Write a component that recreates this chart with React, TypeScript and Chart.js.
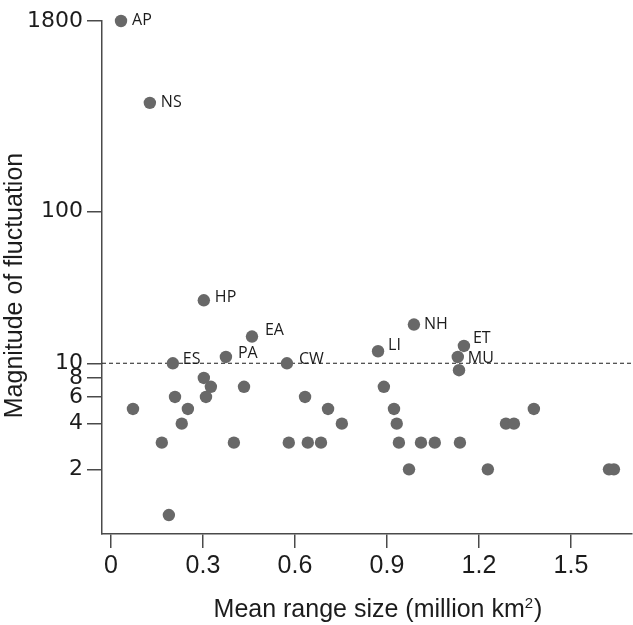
import React, { useEffect, useRef } from "react";
import { Chart, registerables } from "chart.js";

Chart.register(...registerables);

// ---- data ----
const rangeSize: number[] = [
  0.033, 0.127, 0.303, 0.46, 0.375, 0.202, 0.574, 0.871, 0.988, 1.151, 1.131,
  1.135, 0.072, 0.166, 0.189, 0.209, 0.231, 0.251, 0.303, 0.326, 0.31, 0.401,
  0.434, 0.58, 0.633, 0.642, 0.685, 0.708, 0.753, 0.89, 0.923, 0.932, 0.939,
  1.011, 1.056, 1.138, 0.972, 1.229, 1.288, 1.314, 1.379, 1.624, 1.64,
];
const fluctuation: number[] = [
  1800, 520, 26, 15, 11, 10, 10, 12, 18, 13, 11,
  9, 5, 3, 1, 6, 4, 5, 8, 7, 6, 3,
  7, 3, 6, 3, 3, 5, 4, 7, 5, 4, 3,
  3, 3, 3, 2, 2, 4, 4, 5, 2, 2,
];
const pointNames: string[] = [
  "AP", "NS", "HP", "EA", "PA", "ES", "CW", "LI", "NH", "ET", "MU",
];
const xTickValues: number[] = [0, 0.3, 0.6, 0.9, 1.2, 1.5];
const xTickLabels: string[] = ["0", "0.3", "0.6", "0.9", "1.2", "1.5"];
const yTickValues: number[] = [2, 4, 6, 8, 10, 100, 1800];
const yTickLabels: string[] = ["2", "4", "6", "8", "10", "100", "1800"];
const xTitleMain = "Mean range size (million km";
const xTitleSup = "2";
const xTitleEnd = ")";
const yTitle = "Magnitude of fluctuation";
const threshold = 10;
const xMin = -0.029;
const xMax = 1.699;
const yMin = 0.75;
const yMax = 1800;

// label offsets (style only): [dx, dy] from the point centre
const labelOffsets: Record<string, [number, number]> = {
  AP: [11, -1],
  NS: [11, 0],
  HP: [11, -3],
  EA: [13, -6],
  PA: [12, -4],
  ES: [10, -4],
  CW: [12, -4],
  LI: [10, -6],
  NH: [10, 0],
  ET: [9, -8],
  MU: [10, 1],
};

const INK = "#1c1c1c";
const AXIS = "#4a4a4a";
const TITLE_FONT = '25px "Liberation Sans"';
const SUP_FONT = '15px "Liberation Sans"';

const pointLabelPlugin = {
  id: "pointLabels",
  afterDatasetsDraw(chart: any) {
    const meta = chart.getDatasetMeta(1);
    const ctx = chart.ctx;
    ctx.save();
    ctx.font = '16px "Open Sans"';
    ctx.fillStyle = INK;
    ctx.textAlign = "left";
    ctx.textBaseline = "middle";
    pointNames.forEach((name, i) => {
      const el = meta.data[i];
      if (!el || !name) return;
      const off = labelOffsets[name] || [10, 0];
      ctx.fillText(name, el.x + off[0], el.y + off[1]);
    });
    ctx.restore();
  },
};

const axisTitlePlugin = {
  id: "axisTitles",
  afterDraw(chart: any) {
    const ctx = chart.ctx;
    const area = chart.chartArea;
    ctx.save();
    ctx.fillStyle = INK;
    ctx.textBaseline = "alphabetic";
    ctx.textAlign = "left";
    // x title with a real superscript
    ctx.font = TITLE_FONT;
    const wMain = ctx.measureText(xTitleMain).width;
    const wEnd = ctx.measureText(xTitleEnd).width;
    ctx.font = SUP_FONT;
    const wSup = ctx.measureText(xTitleSup).width;
    const total = wMain + wSup + 1 + wEnd;
    const cx = (area.left + area.right) / 2 + 11;
    const base = chart.height - 8;
    let x0 = cx - total / 2;
    ctx.font = TITLE_FONT;
    ctx.fillText(xTitleMain, x0, base);
    x0 += wMain;
    ctx.font = SUP_FONT;
    ctx.fillText(xTitleSup, x0, base - 9);
    x0 += wSup + 1;
    ctx.font = TITLE_FONT;
    ctx.fillText(xTitleEnd, x0, base);
    // y title, rotated
    ctx.translate(15, (area.top + area.bottom) / 2 + 8);
    ctx.rotate(-Math.PI / 2);
    ctx.textAlign = "center";
    ctx.textBaseline = "middle";
    ctx.font = TITLE_FONT;
    ctx.fillText(yTitle, 0, 0);
    ctx.restore();
  },
};

export default function App() {
  const ref = useRef<HTMLCanvasElement | null>(null);
  useEffect(() => {
    if (!ref.current) return;
    const points = rangeSize.map((x, i) => ({ x, y: fluctuation[i] }));
    const chart = new Chart(ref.current, {
      type: "scatter",
      data: {
        datasets: [
          {
            type: "line",
            data: [
              { x: xMin, y: threshold },
              { x: xMax, y: threshold },
            ],
            borderColor: INK,
            borderWidth: 1.2,
            borderDash: [4, 3],
            pointRadius: 0,
            fill: false,
            order: 2,
          } as any,
          {
            type: "scatter",
            data: points,
            backgroundColor: "#686868",
            borderWidth: 0,
            pointRadius: 6.2,
            clip: false,
            order: 1,
          } as any,
        ],
      },
      options: {
        animation: false,
        responsive: true,
        maintainAspectRatio: false,
        layout: { autoPadding: false, padding: { top: 21, right: 1, left: 0, bottom: 0 } },
        plugins: {
          legend: { display: false },
          tooltip: { enabled: false },
        },
        scales: {
          x: {
            type: "linear",
            min: xMin,
            max: xMax,
            afterBuildTicks: (s: any) => {
              s.ticks = xTickValues.map((v) => ({ value: v }));
            },
            afterFit: (s: any) => {
              s.height = 91;
            },
            ticks: {
              autoSkip: false,
              maxRotation: 0,
              padding: 3,
              color: INK,
              font: { family: '"Liberation Sans"', size: 25 },
              callback: (_v: any, i: number) => xTickLabels[i],
            },
            grid: {
              drawOnChartArea: false,
              drawTicks: true,
              tickLength: 14,
              color: AXIS,
              lineWidth: 1.5,
            },
            border: { display: true, color: AXIS, width: 1.5 },
            title: { display: false },
          },
          y: {
            type: "logarithmic",
            min: yMin,
            max: yMax,
            afterBuildTicks: (s: any) => {
              s.ticks = yTickValues.map((v) => ({ value: v }));
            },
            afterFit: (s: any) => {
              s.width = 102;
            },
            ticks: {
              autoSkip: false,
              padding: 4,
              color: INK,
              font: { family: '"DejaVu Sans"', size: 22 },
              callback: (_v: any, i: number) => yTickLabels[i],
            },
            grid: {
              drawOnChartArea: false,
              drawTicks: true,
              tickLength: 15,
              color: AXIS,
              lineWidth: 1.5,
            },
            border: { display: true, color: AXIS, width: 1.5 },
            title: { display: false },
          },
        },
      },
      plugins: [pointLabelPlugin, axisTitlePlugin],
    });
    return () => chart.destroy();
  }, []);

  return (
    <div
      style={{
        position: "fixed",
        left: 0,
        top: 0,
        width: 633,
        height: 625,
        background: "#fff",
      }}
    >
      <canvas ref={ref} />
    </div>
  );
}
